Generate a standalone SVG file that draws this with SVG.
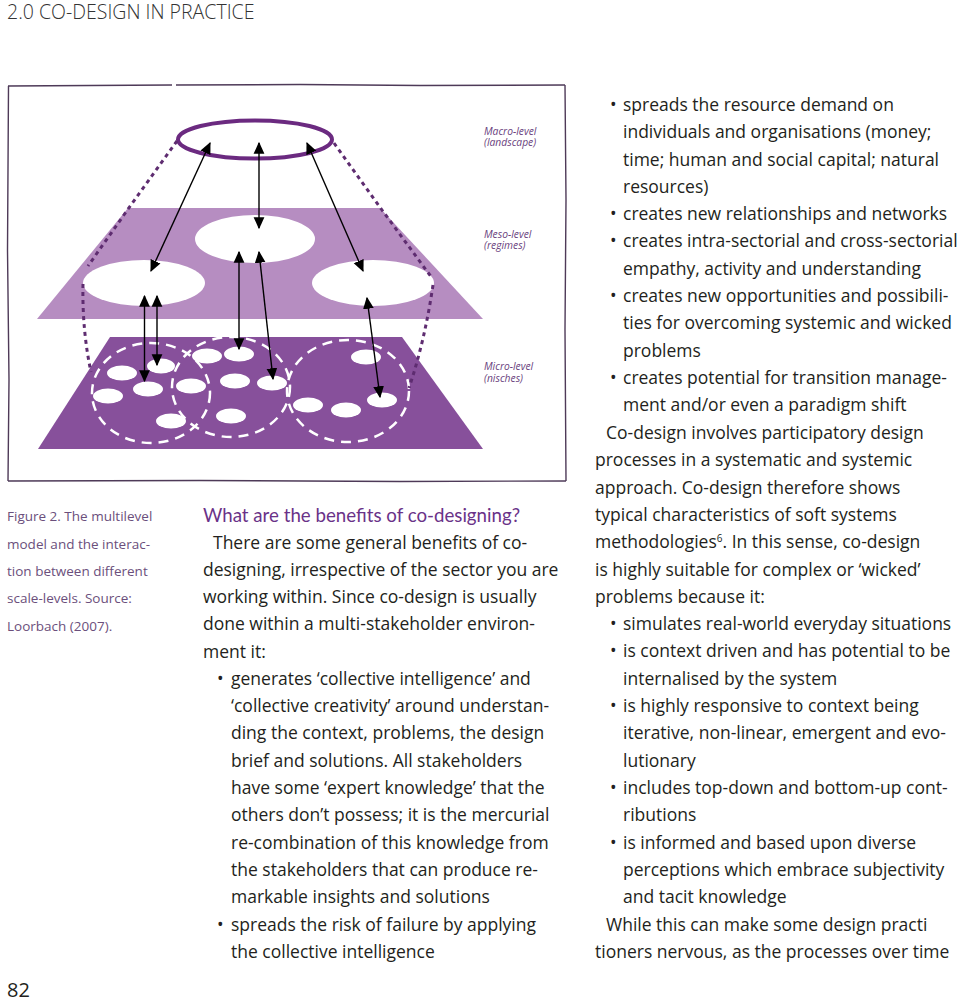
<svg xmlns="http://www.w3.org/2000/svg" width="960" height="1001" viewBox="0 0 960 1001">
<style>
.body{font-family:"Open Sans","DejaVu Sans",sans-serif;font-size:17.5px;fill:#231f20}
.cap{font-family:"Open Sans","DejaVu Sans",sans-serif;font-size:13.5px;fill:#6b4f7c}
.lvl{font-family:"Open Sans","DejaVu Sans",sans-serif;font-size:10.3px;font-style:italic;fill:#6a3f7e}
.arr{stroke:#000;stroke-width:1.4;fill:none;marker-start:url(#ah);marker-end:url(#ah)}
.dot{stroke:#5e2c70;stroke-width:3;fill:none;stroke-dasharray:4 4}
.mic{fill:#fff}
.dc{fill:none;stroke:#fff;stroke-width:2.5;stroke-dasharray:10 7}
</style>
<defs>
<marker id="ah" viewBox="0 0 10 10" refX="9" refY="5" markerWidth="12" markerHeight="12" markerUnits="userSpaceOnUse" orient="auto-start-reverse">
<path d="M0,0.5 L10,5 L0,9.5 z" fill="#000"/>
</marker>
</defs>
<rect width="960" height="1001" fill="#fff"/>
<text x="7" y="19" font-family="Open Sans, sans-serif" font-weight="300" font-size="19.5" fill="#333">2.0 CO-DESIGN IN PRACTICE</text>

<g id="frame" fill="none" stroke="#4e3a58" stroke-width="1.4">
<path d="M8,86 L90,85.5 L172,85"/>
<path d="M176,85 L300,84.5 L420,85.5 L565,85"/>
<path d="M565,85 L566,200 L565,330 L566,481"/>
<path d="M566,481 L400,481.5 L200,480.5 L8,481"/>
<path d="M8,481 L9,380 L7.5,250 L8.5,86"/>
</g>

<g id="micro">
<polygon points="110,337 402,337 483,449 38,449" fill="#87509b"/>
<ellipse class="mic" cx="122" cy="373" rx="15" ry="7.5"/>
<ellipse class="mic" cx="161" cy="366" rx="14" ry="7.5"/>
<ellipse class="mic" cx="108" cy="396" rx="15" ry="7.5"/>
<ellipse class="mic" cx="148" cy="389" rx="15" ry="7.5"/>
<ellipse class="mic" cx="171" cy="421" rx="15" ry="7.5"/>
<ellipse class="mic" cx="191" cy="386" rx="15" ry="7.5"/>
<ellipse class="mic" cx="207" cy="356" rx="15" ry="7.5"/>
<ellipse class="mic" cx="239" cy="354" rx="15" ry="7.5"/>
<ellipse class="mic" cx="235" cy="381" rx="15" ry="7.5"/>
<ellipse class="mic" cx="272" cy="383" rx="15" ry="7.5"/>
<ellipse class="mic" cx="231" cy="416" rx="15" ry="7.5"/>
<ellipse class="mic" cx="366" cy="357" rx="15" ry="7.5"/>
<ellipse class="mic" cx="382" cy="400" rx="15" ry="7.5"/>
<ellipse class="mic" cx="308" cy="405" rx="15" ry="7.5"/>
<ellipse class="mic" cx="346" cy="410" rx="15" ry="7.5"/>
<ellipse class="dc" cx="151" cy="393" rx="59" ry="50"/>
<ellipse class="dc" cx="231" cy="387" rx="59" ry="50"/>
<ellipse class="dc" cx="348" cy="391" rx="61" ry="51"/>
</g>

<g id="meso">
<polygon points="128,208 380,208 483,319 37,319" fill="#b68dc1"/>
<ellipse cx="255" cy="239" rx="60" ry="24" fill="#fff"/>
<ellipse cx="144" cy="283" rx="61" ry="23" fill="#fff"/>
<ellipse cx="373" cy="283" rx="61" ry="23" fill="#fff"/>
</g>

<g id="macro">
<ellipse cx="255" cy="139.5" rx="77" ry="19" fill="none" stroke="#6b2a80" stroke-width="4"/>
</g>

<g id="connectors">
<path class="dot" d="M177,141 L126,212 L88,266"/>
<path class="dot" d="M83,284 Q82,330 91,372"/>
<path class="dot" d="M334,143 L382,210 L432,278"/>
<path class="dot" d="M433,285 Q425,340 409,388"/>
<line class="arr" x1="210" y1="143" x2="151" y2="271"/>
<line class="arr" x1="259" y1="143" x2="259" y2="228"/>
<line class="arr" x1="307" y1="143" x2="363" y2="271"/>
<line class="arr" x1="239" y1="252" x2="239" y2="349"/>
<line class="arr" x1="259" y1="252" x2="273" y2="379"/>
<line class="arr" x1="144.5" y1="296" x2="144.5" y2="381"/>
<line class="arr" x1="157" y1="296" x2="157" y2="365"/>
<line class="arr" x1="367" y1="298" x2="380" y2="397"/>
</g>

<g id="labels">
<text class="lvl" x="484" y="135">Macro-level</text>
<text class="lvl" x="484" y="146">(landscape)</text>
<text class="lvl" x="484" y="238">Meso-level</text>
<text class="lvl" x="484" y="249">(regimes)</text>
<text class="lvl" x="484" y="370">Micro-level</text>
<text class="lvl" x="484" y="382">(nisches)</text>
</g>

<g id="caption" class="cap">
<text x="7" y="521">Figure 2. The multilevel</text>
<text x="7" y="548.5">model and the interac-</text>
<text x="7" y="576">tion between different</text>
<text x="7" y="603">scale-levels. Source:</text>
<text x="7" y="631">Loorbach (2007).</text>
</g>

<g id="middle" class="body">
<text x="203" y="522" font-family="Lato, sans-serif" font-size="18.7" fill="#6a3288">What are the benefits of co-designing?</text>
<text x="213" y="549">There are some general benefits of co-</text>
<text x="203" y="576">designing, irrespective of the sector you are</text>
<text x="203" y="603">working within. Since co-design is usually</text>
<text x="203" y="630">done within a multi-stakeholder environ-</text>
<text x="203" y="658">ment it:</text>
<text x="217" y="685">•</text><text x="231" y="685">generates ‘collective intelligence’ and</text>
<text x="231" y="712">‘collective creativity’ around understan-</text>
<text x="231" y="739">ding the context, problems, the design</text>
<text x="231" y="767">brief and solutions. All stakeholders</text>
<text x="231" y="794">have some ‘expert knowledge’ that the</text>
<text x="231" y="821">others don’t possess; it is the mercurial</text>
<text x="231" y="849">re-combination of this knowledge from</text>
<text x="231" y="876">the stakeholders that can produce re-</text>
<text x="231" y="903">markable insights and solutions</text>
<text x="217" y="931">•</text><text x="231" y="931">spreads the risk of failure by applying</text>
<text x="231" y="958">the collective intelligence</text>
</g>

<g id="right" class="body">
<text x="610" y="111">•</text><text x="623" y="111">spreads the resource demand on</text>
<text x="623" y="138">individuals and organisations (money;</text>
<text x="623" y="166">time; human and social capital; natural</text>
<text x="623" y="193">resources)</text>
<text x="610" y="220">•</text><text x="623" y="220">creates new relationships and networks</text>
<text x="610" y="247">•</text><text x="623" y="247">creates intra-sectorial and cross-sectorial</text>
<text x="623" y="275">empathy, activity and understanding</text>
<text x="610" y="302">•</text><text x="623" y="302">creates new opportunities and possibili-</text>
<text x="623" y="329">ties for overcoming systemic and wicked</text>
<text x="623" y="357">problems</text>
<text x="610" y="384">•</text><text x="623" y="384">creates potential for transition manage-</text>
<text x="623" y="411">ment and/or even a paradigm shift</text>
<text x="606" y="439">Co-design involves participatory design</text>
<text x="595" y="466">processes in a systematic and systemic</text>
<text x="595" y="494">approach. Co-design therefore shows</text>
<text x="595" y="521">typical characteristics of soft systems</text>
<text x="595" y="548">methodologies<tspan font-size="10" dy="-6">6</tspan><tspan dy="6">. In this sense, co-design</tspan></text>
<text x="595" y="576">is highly suitable for complex or ‘wicked’</text>
<text x="595" y="603">problems because it:</text>
<text x="610" y="630">•</text><text x="623" y="630">simulates real-world everyday situations</text>
<text x="610" y="657">•</text><text x="623" y="657">is context driven and has potential to be</text>
<text x="623" y="685">internalised by the system</text>
<text x="610" y="712">•</text><text x="623" y="712">is highly responsive to context being</text>
<text x="623" y="739">iterative, non-linear, emergent and evo-</text>
<text x="623" y="767">lutionary</text>
<text x="610" y="794">•</text><text x="623" y="794">includes top-down and bottom-up cont-</text>
<text x="623" y="821">ributions</text>
<text x="610" y="849">•</text><text x="623" y="849">is informed and based upon diverse</text>
<text x="623" y="876">perceptions which embrace subjectivity</text>
<text x="623" y="903">and tacit knowledge</text>
<text x="606" y="931">While this can make some design practi</text>
<text x="595" y="958">tioners nervous, as the processes over time</text>
</g>

<text x="7" y="997" font-family="Open Sans, sans-serif" font-size="20" fill="#231f20">82</text>
</svg>
